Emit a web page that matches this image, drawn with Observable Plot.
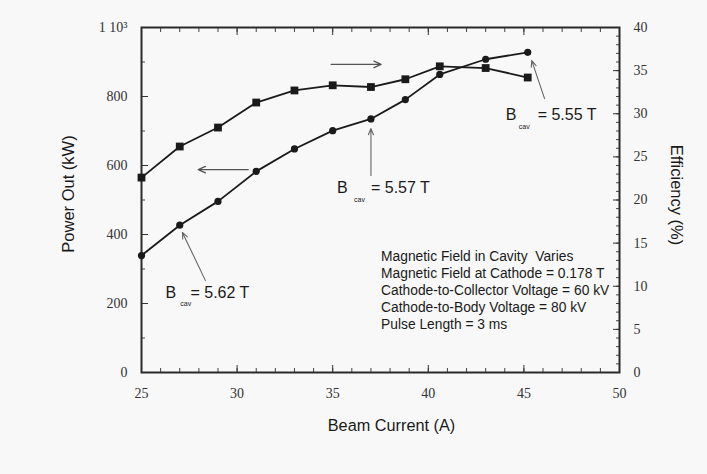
<!DOCTYPE html>
<html><head><meta charset="utf-8">
<script src="https://cdn.jsdelivr.net/npm/d3@7"></script>
<script src="https://cdn.jsdelivr.net/npm/@observablehq/plot@0.6"></script>
<style>
html,body{margin:0;padding:0;background:#f8f8f8;}
#chart svg{display:block;}
</style></head>
<body><div id="chart"></div>
<script>
// ---- data ----
const beamCurrent = [25, 27, 29, 31, 33, 35, 37, 38.8, 40.6, 43, 45.2];      // A
const powerOut    = [339, 427, 496, 583, 648, 701, 735, 791, 864, 908, 928]; // kW (circles)
const efficiency  = [22.6, 26.2, 28.4, 31.3, 32.7, 33.3, 33.1, 34.0, 35.5, 35.3, 34.2]; // % (squares)

const currentDomain = [25, 50];
const powerDomain = [0, 1000];
const effDomain = [0, 40];
const xTicks = [25, 30, 35, 40, 45, 50];
const powerTicks = [0, 200, 400, 600, 800, 1000];
const effTicks = [0, 5, 10, 15, 20, 25, 30, 35, 40];

// B_cav annotations (label pieces) and pointer arrows, in data units
const bcavMain = [
  {x: 27.56, y: 232, text: "= 5.62 T"},
  {x: 37.0,  y: 536, text: "= 5.57 T"},
  {x: 45.72, y: 748, text: "= 5.55 T"}
];
const bcavB = [
  {x: 26.25, y: 232}, {x: 35.23, y: 536}, {x: 44.05, y: 748}
];
const bcavSub = [
  {x: 27.03, y: 200}, {x: 36.12, y: 501}, {x: 44.73, y: 713}
];
const pointerArrows = [
  {x1: 28.34, y1: 267, x2: 27.14, y2: 406},
  {x1: 37.0,  y1: 571, x2: 37.0,  y2: 707},
  {x1: 46.08, y1: 794, x2: 45.41, y2: 904}
];
const axisArrows = [
  {x1: 34.92, x2: 37.53, y: 893},  // efficiency -> right axis
  {x1: 30.58, x2: 27.97, y: 588}   // power <- left axis
];
const notes = [
  "Magnetic Field in Cavity  Varies",
  "Magnetic Field at Cathode = 0.178 T",
  "Cathode-to-Collector Voltage = 60 kV",
  "Cathode-to-Body Voltage = 80 kV",
  "Pulse Length = 3 ms"
];
const notesAnchor = {x: 37.53, y: 240};

// ---- build ----
const k = powerDomain[1] / effDomain[1]; // efficiency -> left-axis units
const rows = beamCurrent.map((c, i) => ({current: c, power: powerOut[i], eff: efficiency[i]}));
const sans = "Liberation Sans, Arial, sans-serif";
const serif = "Liberation Serif, Times New Roman, serif";
const ink = "#1a1a1a";
const tickInk = "#333333";

const chart = Plot.plot({
  width: 707,
  height: 474,
  marginLeft: 141,
  marginRight: 88,
  marginTop: 27,
  marginBottom: 102,
  style: {background: "#f8f8f8", fontFamily: serif, color: ink},
  x: {domain: currentDomain},
  y: {domain: powerDomain},
  marks: [
    // minor ticks (inward)
    Plot.axisX({anchor: "bottom", interval: 1, tickSize: -4, text: null, label: null, stroke: "#444"}),
    Plot.axisX({anchor: "top", interval: 1, tickSize: -4, text: null, label: null, stroke: "#444"}),
    Plot.axisY({anchor: "left", interval: 100, tickSize: -4, text: null, label: null, stroke: "#444"}),
    Plot.axisY({anchor: "right", interval: k, tickSize: -4, text: null, label: null, stroke: "#444"}),
    // major ticks (inward)
    Plot.axisX({anchor: "bottom", ticks: xTicks, tickSize: -7, text: null, label: null, stroke: "#333"}),
    Plot.axisX({anchor: "top", ticks: xTicks, tickSize: -7, text: null, label: null, stroke: "#333"}),
    Plot.axisY({anchor: "left", ticks: powerTicks, tickSize: -7, text: null, label: null, stroke: "#333"}),
    Plot.axisY({anchor: "right", ticks: effTicks.map(e => e * k), tickSize: -7, text: null, label: null, stroke: "#333"}),
    // tick labels (serif, via the x / y scales)
    Plot.text(xTicks, {x: d => d, frameAnchor: "bottom", lineAnchor: "middle", dy: 21,
      text: d => String(d), fontSize: 14, fontFamily: serif, fill: tickInk}),
    Plot.text(powerTicks, {y: d => d, frameAnchor: "left", textAnchor: "end", dx: -14,
      text: d => d === 1000 ? "1 10\u00B3" : String(d), fontSize: 14, fontFamily: serif, fill: tickInk}),
    Plot.text(effTicks, {y: d => d * k, frameAnchor: "right", textAnchor: "start", dx: 14,
      text: d => String(d), fontSize: 14, fontFamily: serif, fill: tickInk}),
    Plot.frame({stroke: "#2b2b2b", strokeWidth: 2}),
    // series
    Plot.line(rows, {x: "current", y: "power", stroke: ink, strokeWidth: 1.8}),
    Plot.dot(rows, {x: "current", y: "power", r: 3.6, fill: ink, stroke: null}),
    Plot.line(rows, {x: "current", y: d => d.eff * k, stroke: ink, strokeWidth: 1.8}),
    Plot.dot(rows, {x: "current", y: d => d.eff * k, symbol: "square", r: 4.4, fill: ink, stroke: null}),
    // arrows
    Plot.arrow(axisArrows, {x1: "x1", x2: "x2", y1: "y", y2: "y", stroke: "#555", strokeWidth: 1.3, headLength: 9, headAngle: 50}),
    Plot.arrow(pointerArrows, {x1: "x1", y1: "y1", x2: "x2", y2: "y2", stroke: "#666", strokeWidth: 1.1, headLength: 9, headAngle: 45}),
    // B_cav labels
    Plot.text(bcavB, {x: "x", y: "y", text: () => "B", textAnchor: "start", fontSize: 16, fontFamily: sans, fill: ink}),
    Plot.text(bcavSub, {x: "x", y: "y", text: () => "cav", textAnchor: "start", fontSize: 7, fontFamily: sans, fill: ink}),
    Plot.text(bcavMain, {x: "x", y: "y", text: "text", textAnchor: "start", fontSize: 16, fontFamily: sans, fill: ink}),
    // conditions block
    Plot.text([notesAnchor], {x: "x", y: "y", text: () => notes.join("\n"), textAnchor: "start", lineAnchor: "middle",
      lineHeight: 1.24, fontSize: 13.8, fontFamily: sans, fill: ink}),
    // axis titles
    Plot.text(["Beam Current (A)"], {frameAnchor: "bottom", textAnchor: "middle", lineAnchor: "middle", dx: 11, dy: 53, fontSize: 16.3, fontFamily: sans, fill: ink}),
    Plot.text(["Power Out (kW)"], {frameAnchor: "left", textAnchor: "middle", lineAnchor: "middle", rotate: -90, dx: -73, dy: -6, fontSize: 16.5, fontFamily: sans, fill: ink}),
    Plot.text(["Efficiency (%)"], {frameAnchor: "right", textAnchor: "middle", lineAnchor: "middle", rotate: 90, dx: 57, dy: -5, fontSize: 16.5, fontFamily: sans, fill: ink})
  ]
});
document.getElementById("chart").append(chart);
</script>
</body></html>
